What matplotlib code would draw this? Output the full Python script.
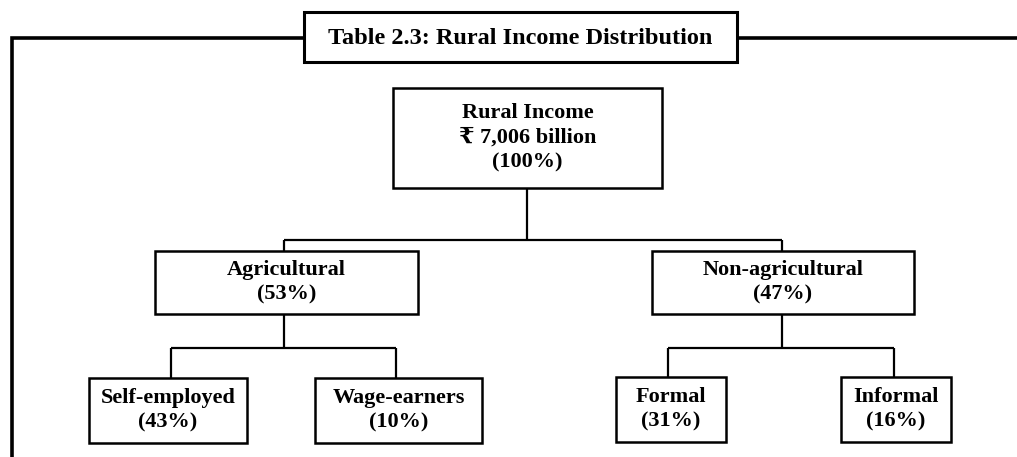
import matplotlib
matplotlib.use("Agg")
import matplotlib.pyplot as plt
from matplotlib.patches import Rectangle

plt.rcParams['font.family'] = ['Liberation Serif', 'DejaVu Serif', 'DejaVu Sans']

# ---- data ----
title = "Table 2.3: Rural Income Distribution"
root_label = "Rural Income"
root_amount = "\u20b9 7,006 billion"
root_share = 100
level1_labels = ["Agricultural", "Non-agricultural"]
level1_shares = [53, 47]
level2_labels = ["Self-employed", "Wage-earners", "Formal", "Informal"]
level2_shares = [43, 10, 31, 16]
level2_parent = [0, 0, 1, 1]

# ---- layout (pixel coordinates) ----
W, H = 1017, 457
fig = plt.figure(figsize=(W / 100, H / 100), dpi=100)
ax = fig.add_axes([0, 0, 1, 1])
ax.set_xlim(0, W)
ax.set_ylim(H, 0)
ax.axis('off')

FS = 16
LS = 1.33
# outer frame
ax.plot([12, 12, 304], [H + 5, 38, 38], color='black', lw=2.6, solid_capstyle='butt', solid_joinstyle='miter')
ax.plot([737, W + 5], [38, 38], color='black', lw=2.6, solid_capstyle='butt')
ax.add_patch(Rectangle((304, 12), 433, 50, fill=True, facecolor='white', edgecolor='black', lw=2.2))
ax.text(520, 38, title, ha='center', va='center', fontsize=17.5, fontweight='bold')


def box(x0, x1, y0, y1, lines, dy=0):
    ax.add_patch(Rectangle((x0, y0), x1 - x0, y1 - y0, fill=True, facecolor='white',
                           edgecolor='black', lw=1.8, zorder=3))
    ax.text((x0 + x1) / 2, (y0 + y1) / 2 + dy, "\n".join(lines), ha='center', va='center',
            fontsize=FS, fontweight='bold', linespacing=LS, zorder=4)


def line(xs, ys):
    ax.plot(xs, ys, color='black', lw=1.6, zorder=2, solid_capstyle='butt')


# root
root_box = (393, 662, 88, 188)
box(*root_box, [root_label, root_amount, f"({root_share}%)"])

l1_boxes = [(155, 418, 251, 314), (652, 914, 251, 314)]
l1_cx = [284, 782]
line([527, 527], [188, 240])
line([l1_cx[0], l1_cx[1]], [240, 240])
for i, (lab, sh) in enumerate(zip(level1_labels, level1_shares)):
    line([l1_cx[i], l1_cx[i]], [240, 251])
    box(*l1_boxes[i], [lab, f"({sh}%)"])

l2_boxes = [(89, 247, 378, 443), (315, 482, 378, 443), (616, 726, 377, 442), (841, 951, 377, 442)]
l2_cx = [171, 396, 668, 894]
for p in range(2):
    kids = [k for k in range(4) if level2_parent[k] == p]
    line([l1_cx[p], l1_cx[p]], [314, 348])
    line([l2_cx[kids[0]], l2_cx[kids[-1]]], [348, 348])
for k, (lab, sh) in enumerate(zip(level2_labels, level2_shares)):
    line([l2_cx[k], l2_cx[k]], [348, l2_boxes[k][2]])
    box(*l2_boxes[k], [lab, f"({sh}%)"])

fig.savefig("out.png", dpi=100)
